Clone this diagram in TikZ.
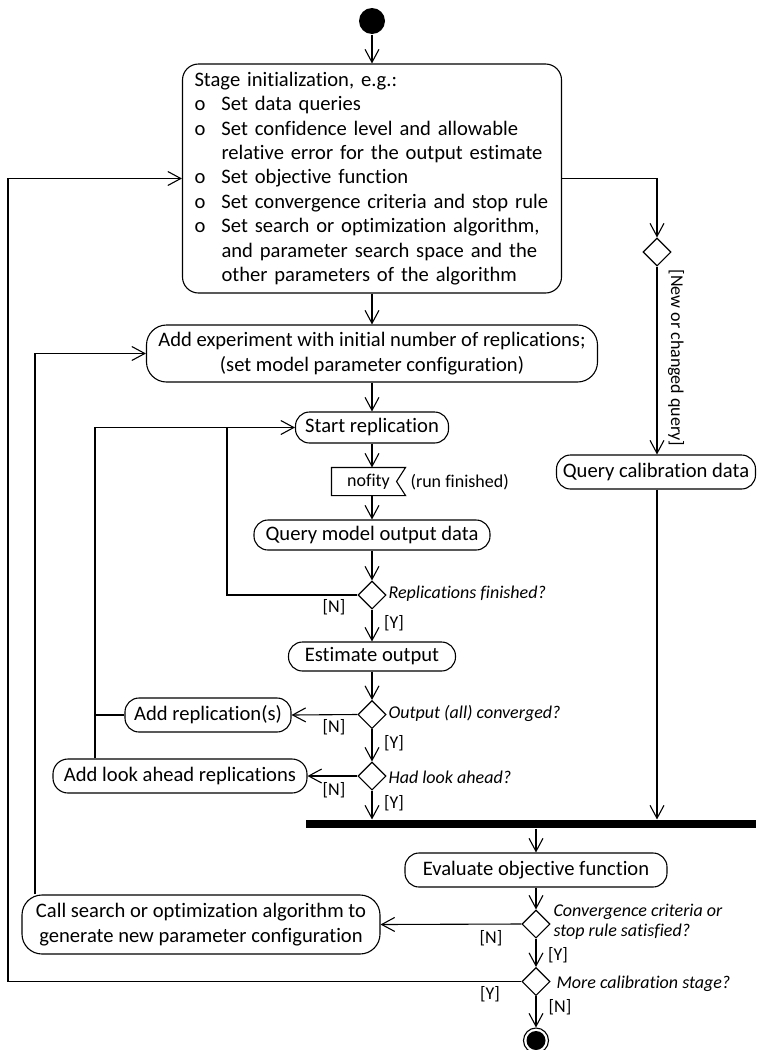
\documentclass[tikz,border=0pt]{standalone}
\usepackage{fontspec}
\setmainfont{Carlito}[Ligatures=NoCommon]
\usepackage{tikz}
\usetikzlibrary{positioning,shapes.geometric,arrows.meta}
\newcommand{\actfont}{\fontsize{10.3}{12.2}\selectfont}
\newcommand{\lblfont}{\fontsize{9}{10}\selectfont}
\newcommand{\bul}{\makebox[13.5pt][l]{o}}
\newcommand{\ind}{\hspace*{13.5pt}}

\begin{document}
\begin{tikzpicture}[x=0.5pt,y=-0.5pt,
    every node/.style={font=\actfont,align=center,inner sep=0pt},
    act/.style={draw,rounded corners=7pt},
    dec/.style={draw,diamond,minimum width=14pt,minimum height=14pt},
    grd/.style={font=\lblfont},
    qst/.style={font=\lblfont\itshape,anchor=west,align=left},
    >={Straight Barb[length=6.5pt,width=7pt]},
    line width=0.55pt,
  ]
  \useasboundingbox (0,0) rectangle (756,1050);
  % start and stage initialization
  \node[circle,fill=black,minimum size=13pt] (start) at (372,21) {};
  \node[act,rounded corners=8pt,minimum width=189.5pt,minimum height=114.5pt,
        text width=177.5pt,align=left] (stage) at (372,178.5) {Stage initialization, e.g.:\\
    \bul Set data queries\\
    \bul Set confidence level and allowable\\
    \ind relative error for the output estimate\\
    \bul Set objective function\\
    \bul Set convergence criteria and stop rule\\
    \bul Set search or optimization algorithm,\\
    \ind and parameter search space and the\\
    \ind other parameters of the algorithm};
  \node[act,rounded corners=10pt,minimum width=225.5pt,minimum height=28.5pt] (addexp) at (372,353.5)
    {Add experiment with initial number of replications;\\(set model parameter configuration)};
  % replication loop
  \node[act,minimum width=76.5pt,minimum height=15.5pt] (startrep) at (372,427.5) {Start replication};
  \node[font=\lblfont,minimum width=36.5pt,minimum height=13.5pt] (nfy) at (368.5,481.5) {nofity};
  \node[font=\lblfont,anchor=west] (runf) at (410,482) {(run finished)};
  \node[act,minimum width=118pt,minimum height=15pt] (qmod) at (372,535) {Query model output data};
  \node[dec] (d1) at (372,595) {};
  \node[qst] (q1) at (388,594) {Replications finished?};
  \node[act,minimum width=83.5pt,minimum height=14.5pt] (est) at (372,656.5) {Estimate output};
  \node[dec] (d2) at (372,714.5) {};
  \node[qst] (q2) at (388,713) {Output (all) converged?};
  \node[act,minimum width=83pt,minimum height=17pt] (addrep) at (208,715) {Add replication(s)};
  \node[dec] (d3) at (372,776) {};
  \node[qst] (q3) at (388,777) {Had look ahead?};
  \node[act,rounded corners=7.5pt,minimum width=127pt,minimum height=17pt] (addla) at (180,776) {Add look ahead replications};
  % calibration data branch
  \node[dec] (d0) at (657,252) {};
  \node[grd,rotate=-90] (qlbl) at (676,358) {[New or changed query]};
  \node[act,minimum width=99.5pt,minimum height=17pt] (qcal) at (656,472) {Query calibration data};
  % join and objective
  \node[fill=black,minimum width=225pt,minimum height=4pt] (bar) at (531,824) {};
  \node[act,minimum width=131pt,minimum height=17pt] (eval) at (536,870) {Evaluate objective function};
  \node[dec] (d4) at (536,924) {};
  \node[qst] (q4) at (553,922) {Convergence criteria or\\stop rule satisfied?};
  \node[act,rounded corners=10pt,minimum width=179pt,minimum height=29.5pt] (cs) at (201,924.5)
    {Call search or optimization algorithm to\\generate new parameter configuration};
  \node[dec] (d5) at (536,981.5) {};
  \node[qst] (q5) at (556,984) {More calibration stage?};
  \node[circle,draw,minimum size=12.5pt] (stop) at (536,1040.5) {};
  \node[circle,fill=black,minimum size=9.5pt] (stopin) at (536,1040.5) {};
  % guards
  \node[grd] (n1) at (334,607) {[N]};  \node[grd] (y1) at (394,623) {[Y]};
  \node[grd] (n2) at (334,727) {[N]};  \node[grd] (y2) at (394,743) {[Y]};
  \node[grd] (n3) at (334,790) {[N]};  \node[grd] (y3) at (394,803) {[Y]};
  \node[grd] (n4) at (491,938) {[N]};  \node[grd] (y4) at (558,955) {[Y]};
  \node[grd] (y5) at (490,994) {[Y]};  \node[grd] (n5) at (560,1007) {[N]};
  \coordinate (l1) at (95,427.5);
  \coordinate (j1) at (227,427.5);
  \coordinate (l2) at (35,353.5);
  \coordinate (l3) at (8,178.5);
  % flag shape of the signal
  \draw (nfy.north west) -- (nfy.north east) -- ([xshift=-4.5pt]nfy.east) -- (nfy.south east) -- (nfy.south west) -- cycle;
  % connectors
  \draw[->] (start) -- (stage); \draw[->] (stage) -- (addexp); \draw[->] (addexp) -- (startrep);
  \draw[->] (startrep) -- (startrep |- nfy.north); \draw[->] (nfy.south -| qmod) -- (qmod);
  \draw[->] (qmod) -- (d1); \draw[->] (d1) -- (est); \draw[->] (est) -- (d2); \draw[->] (d2) -- (d3);
  \draw[->] (d3) -- (d3 |- bar.north);
  \draw (d1.west) -| (j1);
  \draw[->] (d2.west) -- (addrep.east); \draw[->] (d3.west) -- (addla.east);
  \draw (addrep.west) -- (addrep.west -| l1);
  \draw[->] (addla.north -| l1) -- (l1) -- (startrep);
  \draw[->] (stage.east) -| (d0.north); \draw[->] (d0) -- (d0 |- qcal.north);
  \draw[->] (qcal.south -| d0) -- (d0 |- bar.north);
  \draw[->] (bar.south -| eval) -- (eval); \draw[->] (eval) -- (d4); \draw[->] (d4) -- (d5);
  \draw[->] (d4.west) -- (cs.east);
  \draw[->] (cs.north -| l2) -- (l2) -- (addexp);
  \draw[->] (d5.west) -| (l3) -- (stage);
  \draw[->] (d5) -- (stop);
\end{tikzpicture}
\end{document}
